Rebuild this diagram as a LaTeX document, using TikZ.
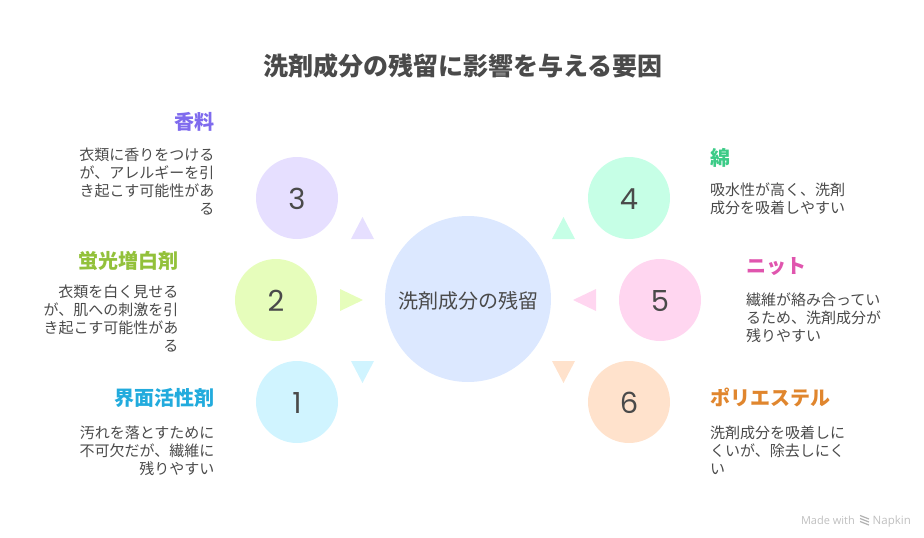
\documentclass[tikz,border=0pt]{standalone}
\usepackage{fontspec}
\newfontfamily\cjk{Noto Sans CJK JP}
\newfontfamily\numfont{Poppins}
\setmainfont{Open Sans}
\definecolor{inkc}{HTML}{4A4A4A}
\definecolor{corec}{HTML}{DCE8FF}
\definecolor{cA}{HTML}{D0F4FF}\definecolor{hA}{HTML}{22ABDD}
\definecolor{cB}{HTML}{E6FDBB}\definecolor{hB}{HTML}{93C13B}
\definecolor{cC}{HTML}{E6DFFF}\definecolor{hC}{HTML}{7F6BEE}
\definecolor{cD}{HTML}{C6FFE6}\definecolor{hD}{HTML}{3CCB87}
\definecolor{cE}{HTML}{FFD6F0}\definecolor{hE}{HTML}{E055AE}
\definecolor{cF}{HTML}{FFE2CC}\definecolor{hF}{HTML}{E0862E}
\tikzset{
    numcircle/.style={circle,minimum size=82pt,inner sep=0pt,text=inkc,font=\numfont\fontsize{29}{29}\selectfont},
    headl/.style={anchor=east,inner sep=0pt,font=\cjk\bfseries\fontsize{20}{24}\selectfont},
    headr/.style={anchor=west,inner sep=0pt,font=\cjk\bfseries\fontsize{20}{24}\selectfont},
    bodyl/.style={anchor=north east,align=right,inner sep=0pt,text=inkc,font=\cjk\fontsize{15}{18}\selectfont},
    bodyr/.style={anchor=north west,align=left,inner sep=0pt,text=inkc,font=\cjk\fontsize{15}{18}\selectfont},
    brandtext/.style={anchor=base east,inner sep=0pt,text=black!25,font=\fontsize{11}{12}\selectfont}
}
\begin{document}
\begin{tikzpicture}[x=1pt,y=-1pt]
    \useasboundingbox (0,0) rectangle (924,538);
    \node[inkc,inner sep=0pt,font=\cjk\bfseries\fontsize{25}{30}\selectfont] (title) at (463,66) {洗剤成分の残留に影響を与える要因};
    %===========================================
    \node[circle,fill=corec,minimum size=166pt,inner sep=0pt,text=inkc,font=\cjk\fontsize{20}{24}\selectfont] (core) at (468,299) {\rule{0pt}{21pt}洗剤成分の残留};
    \foreach \nm/\cx/\cy/\cc in {1/297/402/cA,2/276/300/cB,3/297/198/cC,4/629/198/cD,5/660/300/cE,6/629/402/cF}
        \node[numcircle,fill=\cc] (num\nm) at (\cx,\cy) {\rule{0pt}{23pt}\nm};
    %===========================================
    \fill[cA] (351,361)--(374,361)--(362.5,383)--cycle;
    \fill[cB] (340,289)--(363,300)--(340,311)--cycle;
    \fill[cC] (351,239)--(374,239)--(362.5,217)--cycle;
    \fill[cD] (552,239)--(575,239)--(563.5,217)--cycle;
    \fill[cE] (596,289)--(573,300)--(596,311)--cycle;
    \fill[cF] (552,361)--(575,361)--(563.5,383)--cycle;
    %===========================================
    \node[headl,hC] (headC) at (215,122) {香料};
    \node[bodyl] (bodyC) at (214.5,148) {衣類に香りをつける\\が、アレルギーを引\\き起こす可能性があ\\る};
    \node[headl,hB] (headB) at (179,260.5) {蛍光増白剤};
    \node[bodyl] (bodyB) at (178.5,285) {衣類を白く見せる\\が、肌への刺激を引\\き起こす可能性があ\\る};
    \node[headl,hA] (headA) at (215,398) {界面活性剤};
    \node[bodyl] (bodyA) at (214.5,426) {汚れを落とすために\\不可欠だが、繊維に\\残りやすい};
    \node[headr,hD] (headD) at (710,157.5) {綿};
    \node[bodyr] (bodyD) at (710,183) {吸水性が高く、洗剤\\成分を吸着しやすい};
    \node[headr,hE] (headE) at (746,266.5) {ニット};
    \node[bodyr] (bodyE) at (746,293) {繊維が絡み合ってい\\るため、洗剤成分が\\残りやすい};
    \node[headr,hF] (headF) at (710,397) {ポリエステル};
    \node[bodyr] (bodyF) at (710,426) {洗剤成分を吸着しに\\くいが、除去しにく\\い};
    %===========================================
    \node[brandtext,font=\fontsize{11.5}{12}\selectfont] (brand) at (911,524) {Napkin};
    \node[brandtext] (made) at (855,524) {Made with};
    \foreach \k in {0,1,2}
        \draw[black!30,line width=1.2pt] (860,515.5+3*\k)--(869,519+3*\k);
\end{tikzpicture}
\end{document}
